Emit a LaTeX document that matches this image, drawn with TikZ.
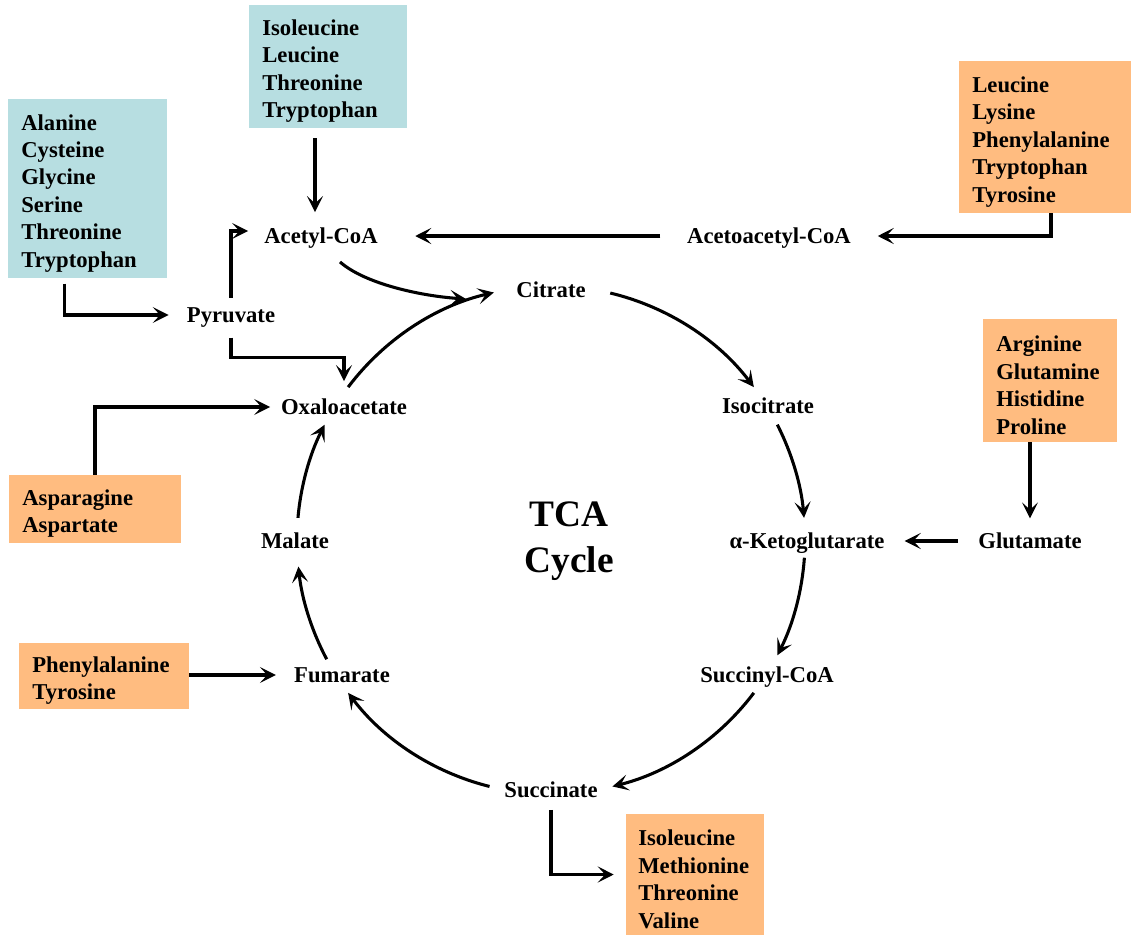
\documentclass[tikz,border=0pt]{standalone}
\usepackage{fontspec}
\setmainfont{Liberation Serif}
\usepackage{xcolor}
\usepackage{tikz}
\usetikzlibrary{arrows.meta, calc, positioning}

\definecolor{aablue}{RGB}{183,222,225}
\definecolor{aaorange}{RGB}{255,188,128}
\newcommand{\acidfont}{\fontsize{17pt}{20.6pt}\selectfont\bfseries}
\newcommand{\cycfont}{\fontsize{28pt}{34pt}\selectfont\bfseries}
\newcommand{\cycr}{190.5pt}

\begin{document}
\begin{tikzpicture}[x=0.75pt, y=-0.75pt]
		\tikzstyle{metab}=[inner sep=0pt, text height=11.5pt, text depth=0pt, font=\acidfont]
		\tikzstyle{acids}=[inner xsep=10pt, inner ysep=0pt, align=left, font=\acidfont, execute at begin node={\rule{0pt}{19pt}}]
		\tikzstyle{bluebox}=[acids, fill=aablue]
		\tikzstyle{orangebox}=[acids, fill=aaorange]
		\tikzstyle{flow}=[line width=2.3pt, -{Stealth[length=12pt, width=12pt, inset=5.5pt]}]

		\useasboundingbox (0,0) rectangle (1133,935);

		% amino acid boxes
		\node (b1) at (328,66.5) [bluebox, text width=98.5pt, minimum height=92.25pt] {Isoleucine\\Leucine\\Threonine\\Tryptophan};
		\node (b2) at (87.5,188.5) [bluebox, text width=99.25pt, minimum height=134.25pt] {Alanine\\Cysteine\\Glycine\\Serine\\Threonine\\Tryptophan};
		\node (o1) at (1045,137) [orangebox, text width=109pt, minimum height=114pt] {Leucine\\Lysine\\Phenylalanine\\Tryptophan\\Tyrosine};
		\node (o2) at (1050,380.5) [orangebox, text width=80.5pt, minimum height=92.25pt] {Arginine\\Glutamine\\Histidine\\Proline};
		\node (o3) at (95,509) [orangebox, text width=109pt, minimum height=51pt] {Asparagine\\Aspartate};
		\node (o4) at (104,676) [orangebox, text width=107.5pt, minimum height=49.5pt] {Phenylalanine\\Tyrosine};
		\node (o5) at (695,874.5) [orangebox, inner xsep=9.25pt, text width=85pt, minimum height=90.75pt] {Isoleucine\\Methionine\\Threonine\\Valine};

		% intermediates
		\node (acetyl) at (321,236) [metab] {Acetyl-CoA};
		\node (acetoacetyl) at (769,236) [metab] {Acetoacetyl-CoA};
		\node (pyruvate) at (231,315) [metab] {Pyruvate};
		\node (citrate) at (551,290) [metab] {Citrate};
		\node (isocitrate) at (768,406) [metab] {Isocitrate};
		\node (oxalo) at (344,407) [metab] {Oxaloacetate};
		\node (malate) at (295,541) [metab] {Malate};
		\node (akg) at (807,541) [metab] {α-Ketoglutarate};
		\node (glutamate) at (1030,541) [metab] {Glutamate};
		\node (fumarate) at (342,675) [metab] {Fumarate};
		\node (succoa) at (767,675) [metab] {Succinyl-CoA};
		\node (succinate) at (551,790) [metab] {Succinate};
		\node (tca) at (569,541) [font=\cycfont, align=center, inner sep=0pt] {TCA\\Cycle};

		% the cycle
		\coordinate (hub) at (551,540);
		\foreach \a/\b in {143/103, 76.5/37, 27/5, -4/-27, -37/-76, -104/-143, 208/186, 175/153}
			\draw[flow] (hub) ++(\a:\cycr) arc[start angle=\a, end angle=\b, radius=\cycr];

		% feeders
		\draw[flow, shorten <=7.5pt, shorten >=12pt] ([xshift=-4.5pt]b1.south -| acetyl.north) -- ([xshift=-4.5pt]acetyl.north);
		\draw[flow, shorten <=20pt, shorten >=28pt] (acetoacetyl.west) -- (acetyl.east);
		\draw[flow, shorten >=20pt] ([xshift=4.5pt]o1.south) |- (acetoacetyl.east);
		\draw[flow, shorten <=4pt, shorten >=13.5pt] ([xshift=-17pt]b2.south) |- (pyruvate.west);
		\draw[flow, shorten <=7pt, shorten >=12pt] (pyruvate.north) |- ([yshift=3.75pt]acetyl.west);
		\draw[flow, shorten <=11pt, shorten >=13.5pt] (pyruvate.south) -- ++(0,35) -| (oxalo.north);
		\draw[flow] ([shift={(19,18)}]acetyl.south) .. controls +(25,22) and +(-45,-3) .. ([shift={(-50,9)}]citrate.west);
		\draw[flow, shorten >=8pt] (o3.north) |- (oxalo.west);
		\draw[flow, shorten >=13.5pt] (o4.east |- fumarate.west) -- (fumarate.west);
		\draw[flow, shorten >=11pt] (o2.south -| glutamate.north) -- (glutamate.north);
		\draw[flow, shorten <=15pt, shorten >=15pt] (glutamate.west) -- (akg.east);
		\draw[flow, shorten <=9pt, shorten >=9pt] (succinate.south) |- (o5.west);
\end{tikzpicture}
\end{document}
